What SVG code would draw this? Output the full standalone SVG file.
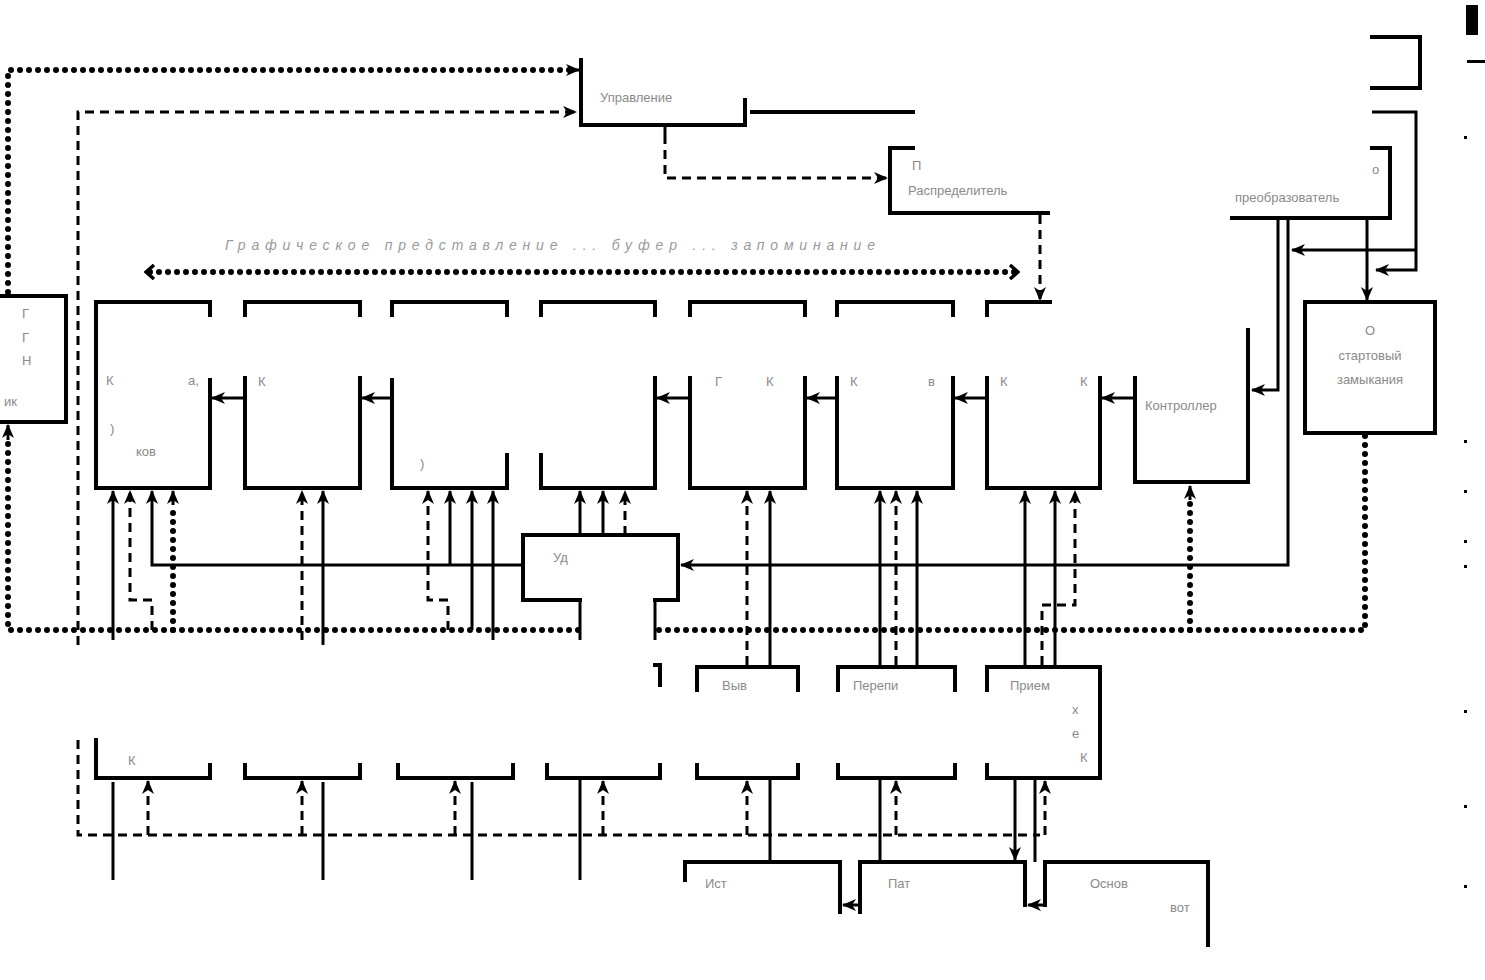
<svg xmlns="http://www.w3.org/2000/svg" width="1485" height="980" viewBox="0 0 1485 980">
<style>
.s{fill:none;stroke:#000;stroke-width:4;stroke-linecap:square}
.c{fill:none;stroke:#000;stroke-width:3}
.d{fill:none;stroke:#000;stroke-width:3;stroke-dasharray:9 6}
.o{fill:none;stroke:#000;stroke-width:6;stroke-dasharray:0 9;stroke-linecap:round}
.t{font-family:"Liberation Sans",Arial,sans-serif;font-size:13px;fill:#8a8a8a}
.ti{font-family:"Liberation Sans",Arial,sans-serif;font-size:14px;fill:#9a9a9a;font-style:italic}
</style>
<defs>
<marker id="a" viewBox="0 0 14 12" refX="13" refY="6" markerWidth="14" markerHeight="12" markerUnits="userSpaceOnUse" orient="auto">
<path d="M0,0 L14,6 L0,12 L4,6 z" fill="#000"/>
</marker>
<marker id="v" viewBox="0 0 12 16" refX="10" refY="8" markerWidth="12" markerHeight="16" markerUnits="userSpaceOnUse" orient="auto-start-reverse">
<path d="M2,1 L10,8 L2,15" fill="none" stroke="#000" stroke-width="3.5"/>
</marker>
</defs>
<rect width="1485" height="980" fill="#fff"/>

<g id="n-upr">
<path class="s" d="M581,60 V125 H745 V100"/>
<text class="t" x="600" y="102">Управление</text>
</g>
<g id="n-raspr">
<path class="s" d="M913,148 H890 V213 H1048"/>
<text class="t" x="912" y="170">П</text>
<text class="t" x="908" y="195">Распределитель</text>
</g>
<g id="n-preobr">
<path class="s" d="M1372,148 H1390 V218 H1232"/>
<text class="t" x="1372" y="174">о</text>
<text class="t" x="1235" y="202">преобразователь</text>
</g>
<g id="n-bracket">
<path class="s" d="M1372,37 H1420 V88 H1372"/>
</g>
<g id="n-left">
<path class="s" d="M0,296 H66 V422 H0"/>
<text class="t" x="22" y="318">Г</text>
<text class="t" x="22" y="342">Г</text>
<text class="t" x="22" y="365">Н</text>
<text class="t" x="4" y="406">ик</text>
</g>
<g id="n-osn">
<rect class="s" x="1305" y="302" width="130" height="131"/>
<text class="t" x="1370" y="335" text-anchor="middle">О</text>
<text class="t" x="1370" y="360" text-anchor="middle">стартовый</text>
<text class="t" x="1370" y="384" text-anchor="middle">замыкания</text>
</g>

<g id="n-b1">
<path class="s" d="M210,315 V302 H96 V488 H210 V380"/>
<text class="t" x="106" y="385">К</text>
<text class="t" x="188" y="385">а,</text>
<text class="t" x="110" y="433">)</text>
<text class="t" x="136" y="456">ков</text>
</g>
<g id="n-b2">
<path class="s" d="M245,315 V302 H360 V315"/>
<path class="s" d="M245,378 V488 H360 V378"/>
<text class="t" x="258" y="386">К</text>
</g>
<g id="n-b3">
<path class="s" d="M392,315 V302 H507 V315"/>
<path class="s" d="M392,380 V488 H507 V455"/>
<text class="t" x="420" y="468">)</text>
</g>
<g id="n-b4">
<path class="s" d="M541,315 V302 H655 V315"/>
<path class="s" d="M541,455 V488 H655 V378"/>
</g>
<g id="n-b5">
<path class="s" d="M690,315 V302 H805 V315"/>
<path class="s" d="M690,378 V488 H805 V378"/>
<text class="t" x="715" y="386">Г</text>
<text class="t" x="766" y="386">К</text>
</g>
<g id="n-b6">
<path class="s" d="M837,315 V302 H953 V315"/>
<path class="s" d="M837,378 V488 H953 V378"/>
<text class="t" x="850" y="386">К</text>
<text class="t" x="928" y="386">в</text>
</g>
<g id="n-b7">
<path class="s" d="M987,315 V302 H1050"/>
<path class="s" d="M987,378 V488 H1100 V378"/>
<text class="t" x="1000" y="386">К</text>
<text class="t" x="1080" y="386">К</text>
</g>
<g id="n-b8">
<path class="s" d="M1248,330 V482 H1135 V378"/>
<text class="t" x="1145" y="410">Контроллер</text>
</g>

<g id="n-ude">
<path class="s" d="M580,600 H523 V535 H678 V600 H655"/>
<text class="t" x="553" y="562">Уд</text>
</g>

<g id="n-l1">
<path class="s" d="M96,740 V778 H210 V765"/>
<text class="t" x="128" y="765">К</text>
</g>
<g id="n-l2"><path class="s" d="M245,765 V778 H360 V765"/></g>
<g id="n-l3"><path class="s" d="M398,765 V778 H513 V765"/></g>
<g id="n-l4">
<path class="s" d="M547,765 V778 H660 V765"/>
<path class="s" d="M655,665 H660 V685"/>
</g>
<g id="n-l5">
<path class="s" d="M697,690 V667 H798 V690"/>
<path class="s" d="M697,765 V778 H798 V765"/>
<text class="t" x="722" y="690">Выв</text>
</g>
<g id="n-l6">
<path class="s" d="M838,690 V667 H955 V690"/>
<path class="s" d="M838,765 V778 H955 V765"/>
<text class="t" x="853" y="690">Перепи</text>
</g>
<g id="n-l7">
<path class="s" d="M987,690 V667 H1100 V778 H987 V765"/>
<text class="t" x="1010" y="690">Прием</text>
<text class="t" x="1072" y="714">х</text>
<text class="t" x="1072" y="738">е</text>
<text class="t" x="1080" y="762">К</text>
</g>

<g id="n-ist">
<path class="s" d="M685,880 V862 H840 V912"/>
<text class="t" x="705" y="888">Ист</text>
</g>
<g id="n-pat">
<path class="s" d="M860,912 V862 H1025 V905"/>
<text class="t" x="888" y="888">Пат</text>
</g>
<g id="n-osnv">
<path class="s" d="M1045,905 V862 H1208 V945"/>
<text class="t" x="1090" y="888">Основ</text>
<text class="t" x="1170" y="912">вот</text>
</g>

<g id="marks">
<rect x="1466" y="5" width="12" height="30" fill="#000"/>
<rect x="1467" y="60" width="18" height="3" fill="#000"/>
<rect x="1464" y="136" width="3" height="3" fill="#000"/>
<rect x="1464" y="440" width="3" height="3" fill="#000"/>
<rect x="1464" y="490" width="3" height="3" fill="#000"/>
<rect x="1464" y="540" width="3" height="3" fill="#000"/>
<rect x="1464" y="565" width="3" height="3" fill="#000"/>
<rect x="1464" y="710" width="3" height="3" fill="#000"/>
<rect x="1464" y="805" width="3" height="3" fill="#000"/>
<rect x="1464" y="885" width="3" height="3" fill="#000"/>
</g>

<text class="ti" x="225" y="250" textLength="650" lengthAdjust="spacing">Графическое представление ... буфер ... запоминание</text>

<g id="connectors">
<path class="o" d="M8,292 V70 H570" />
<path class="c" d="M570,70 H579" marker-end="url(#a)"/>
<path class="d" d="M78,645 V112 H576" marker-end="url(#a)"/>
<path class="d" d="M78,740 V835 H1040"/>
<path class="s" d="M752,112 H913"/>
<path class="c" d="M665,125 V135"/>
<path class="d" d="M665,135 V178 H887" marker-end="url(#a)"/>
<path class="d" d="M1040,215 V300" marker-end="url(#a)"/>
<path class="c" d="M1372,112 H1416 V270 H1376" marker-end="url(#a)"/>
<path class="c" d="M1416,250 H1292" marker-end="url(#a)"/>
<path class="c" d="M1367,218 V300" marker-end="url(#a)"/>
<path class="c" d="M1278,218 V390 H1252" marker-end="url(#a)"/>
<path class="c" d="M1288,218 V565 H681" marker-end="url(#a)"/>
<path class="o" d="M578,630 H8 V440"/>
<path class="c" d="M8,440 V425" marker-end="url(#a)"/>
<path class="o" d="M1365,436 V630 H655"/>
<path class="o" d="M1190,630 V500"/>
<path class="c" d="M1190,500 V486" marker-end="url(#a)"/>
<path class="o" d="M150,272 H1015"/>
<path class="c" d="M150,272 H146" marker-end="url(#v)"/>
<path class="c" d="M1012,272 H1018" marker-end="url(#v)"/>
<path class="c" d="M245,398 H212" marker-end="url(#a)"/>
<path class="c" d="M392,398 H362" marker-end="url(#a)"/>
<path class="c" d="M690,398 H657" marker-end="url(#a)"/>
<path class="c" d="M837,398 H807" marker-end="url(#a)"/>
<path class="c" d="M987,398 H955" marker-end="url(#a)"/>
<path class="c" d="M1135,398 H1102" marker-end="url(#a)"/>
<path class="c" d="M523,565 H152 V491" marker-end="url(#a)"/>
<path class="c" d="M450,565 V491" marker-end="url(#a)"/>
<path class="c" d="M580,535 V491" marker-end="url(#a)"/>
<path class="c" d="M603,535 V491" marker-end="url(#a)"/>
<path class="d" d="M625,535 V491" marker-end="url(#a)"/>
<path class="c" d="M580,600 V640"/>
<path class="c" d="M655,600 V640"/>
<path class="c" d="M113,640 V491" marker-end="url(#a)"/>
<path class="d" d="M152,630 V600 H130 V491" marker-end="url(#a)"/>
<path class="o" d="M173,630 V505"/>
<path class="c" d="M173,505 V491" marker-end="url(#a)"/>
<path class="d" d="M302,640 V491" marker-end="url(#a)"/>
<path class="c" d="M323,645 V491" marker-end="url(#a)"/>
<path class="d" d="M448,630 V600 H428 V491" marker-end="url(#a)"/>
<path class="c" d="M472,630 V491" marker-end="url(#a)"/>
<path class="c" d="M493,640 V491" marker-end="url(#a)"/>
<path class="d" d="M747,665 V491" marker-end="url(#a)"/>
<path class="c" d="M770,665 V491" marker-end="url(#a)"/>
<path class="c" d="M880,665 V491" marker-end="url(#a)"/>
<path class="d" d="M896,665 V491" marker-end="url(#a)"/>
<path class="c" d="M917,665 V491" marker-end="url(#a)"/>
<path class="c" d="M1025,665 V491" marker-end="url(#a)"/>
<path class="c" d="M1055,665 V491" marker-end="url(#a)"/>
<path class="d" d="M1042,665 V605 H1075 V491" marker-end="url(#a)"/>
<path class="c" d="M113,880 V782"/>
<path class="d" d="M148,835 V781" marker-end="url(#a)"/>
<path class="d" d="M302,835 V781" marker-end="url(#a)"/>
<path class="c" d="M323,880 V782"/>
<path class="d" d="M455,835 V781" marker-end="url(#a)"/>
<path class="c" d="M472,880 V782"/>
<path class="c" d="M580,780 V880"/>
<path class="d" d="M603,835 V781" marker-end="url(#a)"/>
<path class="d" d="M747,835 V781" marker-end="url(#a)"/>
<path class="c" d="M770,780 V862"/>
<path class="c" d="M880,780 V862"/>
<path class="d" d="M896,835 V781" marker-end="url(#a)"/>
<path class="c" d="M1015,780 V860" marker-end="url(#a)"/>
<path class="c" d="M1035,780 V862"/>
<path class="d" d="M1045,835 V781" marker-end="url(#a)"/>
<path class="c" d="M860,905 H843" marker-end="url(#a)"/>
<path class="c" d="M1045,905 H1028" marker-end="url(#a)"/>
</g>
</svg>
